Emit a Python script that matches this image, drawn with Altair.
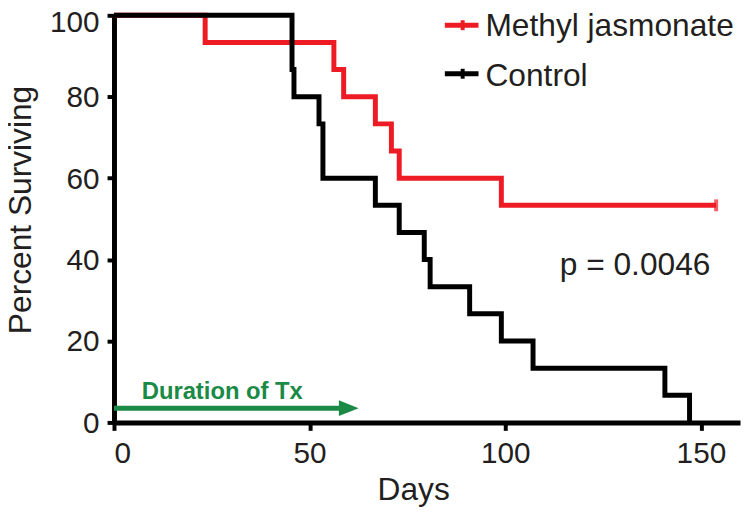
import altair as alt
import pandas as pd

# ---- data ----
control_days = [0, 45.5, 46, 52.4, 53.4, 66.8, 72.9, 79.3, 80.8, 90.9, 99.0, 107.1, 140.8, 147.1]
control_surv = [100, 86.67, 80, 73.33, 60, 53.33, 46.67, 40, 33.33, 26.67, 20, 13.33, 6.67, 0]

mj_days = [0, 23.3, 56.2, 58.7, 66.8, 70.9, 72.9, 99.0, 153.9]
mj_surv = [100, 93.33, 86.67, 80, 73.33, 66.67, 60, 53.33, 53.33]

mj_censor_days = [153.9]
mj_censor_surv = [53.33]

series_names = ["Methyl jasmonate", "Control"]
p_label = "p = 0.0046"
tx_label = "Duration of Tx"
tx_days = [0, 62.5]   # treatment period (arrow tip)
tx_level = 3.5

x_ticks = [0, 50, 100, 150]
y_ticks = [0, 20, 40, 60, 80, 100]

RED = "#ed1c24"
BLACK = "#000000"
GREEN = "#1a8a46"
TXT = "#231f20"
FONT = "Liberation Sans"

ctrl_df = pd.DataFrame({"day": control_days, "surv": control_surv})
mj_df = pd.DataFrame({"day": mj_days, "surv": mj_surv})
cens_df = pd.DataFrame({"day": mj_censor_days, "surv": mj_censor_surv})
arrow_df = pd.DataFrame({"day": [tx_days[0]], "day2": [tx_days[1] - 5.0], "surv": [tx_level]})
head_df = pd.DataFrame({"day": [tx_days[1] - 2.5], "surv": [tx_level]})

xscale = alt.Scale(domain=[0, 160], nice=False)
yscale = alt.Scale(domain=[0, 100], nice=False)

xaxis = alt.Axis(values=x_ticks, title="Days", titleX=302, titleY=78,
                 titleBaseline="alphabetic", titleAlign="center")
yaxis = alt.Axis(values=y_ticks, title="Percent Surviving", titleX=-84, titleY=196,
                 titleBaseline="alphabetic", titleAlign="center", titleAngle=-90,
                 labelOffset={"condition": {"test": "datum.value == 100", "value": 7}, "value": 1})


def X(field="day"):
    return alt.X(f"{field}:Q", scale=xscale, axis=xaxis)


def Y(field="surv"):
    return alt.Y(f"{field}:Q", scale=yscale, axis=yaxis)


red_line = alt.Chart(mj_df).mark_line(
    interpolate="step-after", color=RED, strokeWidth=5
).encode(x=X(), y=Y())

black_line = alt.Chart(ctrl_df).mark_line(
    interpolate="step-after", color=BLACK, strokeWidth=5
).encode(x=X(), y=Y())

censor = alt.Chart(cens_df).mark_tick(
    color=RED, orient="vertical", size=12, thickness=4
).encode(x=X(), y=Y())

shaft = alt.Chart(arrow_df).mark_rule(color=GREEN, strokeWidth=5).encode(
    x=X(), x2="day2:Q", y=Y()
)
head = alt.Chart(head_df).mark_point(
    shape="M -1 -0.8 L 1 0 L -1 0.8 Z", size=400, filled=True, opacity=1, color=GREEN
).encode(x=X(), y=Y())

one = pd.DataFrame({"t": [0]})


def text_layer(txt, px, py, size=32, weight="normal", color=TXT):
    return alt.Chart(one).mark_text(
        text=txt, align="left", baseline="alphabetic", font=FONT,
        fontSize=size, fontWeight=weight, color=color
    ).encode(x=alt.value(px), y=alt.value(py))


def rule_layer(color, x1, x2, y1, y2, w):
    return alt.Chart(one).mark_rule(color=color, strokeWidth=w).encode(
        x=alt.value(x1), x2=alt.value(x2), y=alt.value(y1), y2=alt.value(y2)
    )


legend = [
    rule_layer(RED, 334, 368, 10, 10, 5),
    rule_layer(RED, 352, 352, 5, 15, 4),
    rule_layer(BLACK, 334, 368, 59, 59, 5),
    rule_layer(BLACK, 352, 352, 54, 64, 4),
    text_layer(series_names[0], 375, 21),
    text_layer(series_names[1], 375, 71),
]

chart = alt.layer(
    red_line, black_line, censor, shaft, head,
    text_layer(tx_label, 28, 387, size=24, weight="bold", color=GREEN),
    text_layer(p_label, 450, 262),
    *legend
).properties(
    width=632, height=411,
    autosize=alt.AutoSizeParams(type="none"),
    padding={"left": 107, "top": 5, "right": 2, "bottom": 83},
).configure_view(stroke=None).configure_axis(
    grid=False,
    domainColor=BLACK, domainWidth=5,
    tickColor=BLACK, tickWidth=4,
    labelFont=FONT, labelFontSize=30, labelColor=TXT,
    titleFont=FONT, titleFontSize=32, titleColor=TXT, titleFontWeight="normal",
).configure_axisX(
    tickSize=8, labelPadding=8
).configure_axisY(
    tickSize=7, labelPadding=8
)

chart.save("out.html", embed_options={"renderer": "svg", "actions": False})
